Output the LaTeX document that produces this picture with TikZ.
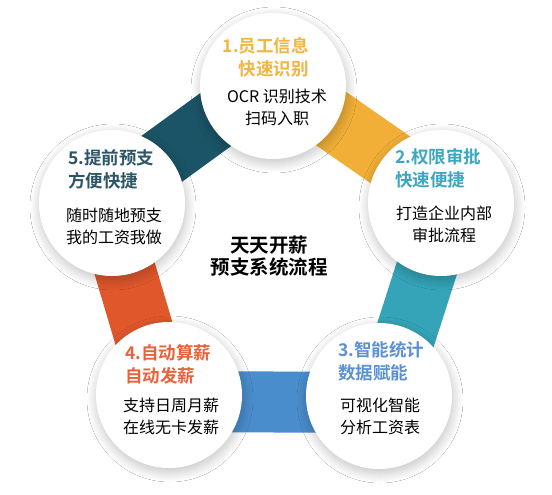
\documentclass[tikz,border=0pt]{standalone}
\usepackage{fontspec}
\setmainfont{Noto Sans CJK SC}[BoldFont={Noto Sans CJK SC Bold}]
\usetikzlibrary{calc,shadows.blur}
\definecolor{bgold}{HTML}{F1AF37}
\definecolor{bteal}{HTML}{35A4B9}
\definecolor{bblue}{HTML}{4A8DCC}
\definecolor{borange}{HTML}{E0572C}
\definecolor{bnavy}{HTML}{1B5467}
\definecolor{tgold}{HTML}{F2B540}
\definecolor{tteal}{HTML}{3CA7C0}
\definecolor{tblue}{HTML}{5C92D2}
\definecolor{torange}{HTML}{E8623A}
\definecolor{tnavy}{HTML}{2C5567}
\begin{document}
\begin{tikzpicture}[x=1pt,y=-1pt,
  circ/.style={circle,fill=white,minimum size=146pt,inner sep=0pt,
    blur shadow={shadow xshift=1pt,shadow yshift=-4pt,shadow blur radius=10pt,shadow blur steps=20,shadow opacity=25}},
  ttl/.style={font=\bfseries\fontsize{17.5}{23}\selectfont,inner sep=0pt},
  body/.style={font=\fontsize{16}{22}\selectfont,align=center,inner sep=0pt,text=black},
  ctr/.style={font=\bfseries\fontsize{19.5}{22}\selectfont,align=center,inner sep=0pt,text=black}]
\useasboundingbox[fill=white] (0,0) rectangle (552,495);
\coordinate (p1) at (273,86);
\coordinate (p2) at (441,203);
\coordinate (p3) at (379,396);
\coordinate (p4) at (169,395);
\coordinate (p5) at (112,203);
\foreach \a/\b/\c in {p1/p2/bgold,p2/p3/bteal,p3/p4/bblue,p4/p5/borange,p5/p1/bnavy}
  \fill[\c] ($(\a)!37pt!90:(\b)$) -- ($(\b)!37pt!-90:(\a)$) -- ($(\b)!24pt!90:(\a)$) -- ($(\a)!24pt!-90:(\b)$) -- cycle;
\node[circ] (c1) at (p1) {};
\node[circ] (c2) at (p2) {};
\node[circ] (c3) at (p3) {};
\node[circ] (c4) at (p4) {};
\node[circ] (c5) at (p5) {};
\node[ttl,text=tgold,anchor=east,align=right] (t1) at (309,57) {1.员工信息\\快速识别};
\node[body] (b1) at (277,107.5) {OCR 识别技术\\扫码入职};
\node[ttl,text=tteal,anchor=west,align=left] (t2) at (395,168.5) {2.权限审批\\快速便捷};
\node[body] (b2) at (444,224) {打造企业内部\\审批流程};
\node[ttl,text=tblue,anchor=west,align=left] (t3) at (338,361.5) {3.智能统计\\数据赋能};
\node[body] (b3) at (380,416.5) {可视化智能\\分析工资表};
\node[ttl,text=torange,anchor=west,align=left] (t4) at (125,364.5) {4.自动算薪\\自动发薪};
\node[body] (b4) at (171,416.5) {支持日周月薪\\在线无卡发薪};
\node[ttl,text=tnavy,anchor=west,align=left] (t5) at (68,169) {5.提前预支\\方便快捷};
\node[body] (b5) at (114,226) {随时随地预支\\我的工资我做};
\node[ctr] (ct) at (269,256) {天天开薪\\预支系统流程};
\end{tikzpicture}
\end{document}
